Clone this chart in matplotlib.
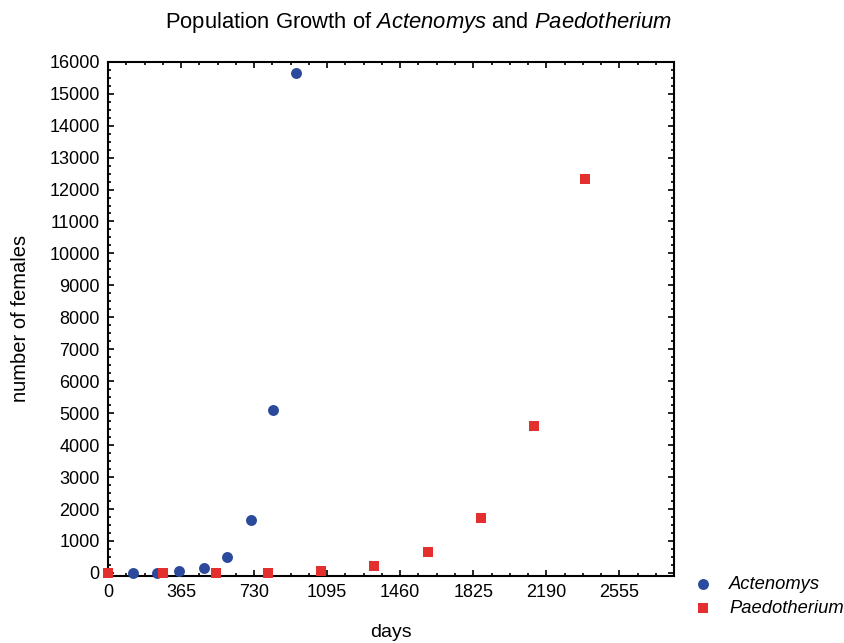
import matplotlib.pyplot as plt
from matplotlib.ticker import MultipleLocator

plt.rcParams["font.family"] = ["Liberation Sans", "DejaVu Sans"]
plt.rcParams["mathtext.fontset"] = "custom"
plt.rcParams["mathtext.rm"] = "Liberation Sans"
plt.rcParams["mathtext.it"] = "Liberation Sans:italic"

# Actenomys (blue circles)
act_days = [123, 243, 355, 477, 593, 715, 825, 940]
act_females = [0, 5, 60, 170, 510, 1660, 5100, 15660]

# Paedotherium (red squares)
pae_days = [0, 276, 538, 798, 1063, 1327, 1597, 1863, 2130, 2385]
pae_females = [0, 0, 0, 5, 70, 230, 640, 1720, 4600, 12330]

x_ticks = [0, 365, 730, 1095, 1460, 1825, 2190, 2555]

fig = plt.figure(figsize=(8.45, 6.43), dpi=100)
ax = fig.add_axes([0.128, 0.104, 0.67, 0.80])

ax.scatter(act_days, act_females, marker="o", s=62, color="#2c4a9b",
           label="Actenomys", zorder=3, clip_on=False, linewidths=0)
ax.scatter(pae_days, pae_females, marker="s", s=58, color="#e3302f",
           label="Paedotherium", zorder=3, clip_on=False, linewidths=0)

ax.set_xlim(0, 2830)
ax.set_ylim(-100, 16000)
ax.set_xticks(x_ticks)
ax.xaxis.set_minor_locator(MultipleLocator(91.25))
ax.yaxis.set_major_locator(MultipleLocator(1000))
ax.yaxis.set_minor_locator(MultipleLocator(250))

ax.tick_params(which="both", direction="in", top=True, right=True,
               labelsize=13, width=1.2)
ax.tick_params(which="major", length=4, pad=6)
ax.tick_params(which="minor", length=2.5)
for sp in ax.spines.values():
    sp.set_linewidth(1.5)

ax.set_xlabel("days", fontsize=14, labelpad=16)
ax.set_ylabel("number of females", fontsize=14.5, labelpad=14)
fig.suptitle("Population Growth of $\\mathit{Actenomys}$ and $\\mathit{Paedotherium}$",
             x=0.495, y=0.985, fontsize=15.8)

leg = ax.legend(loc="lower left", bbox_to_anchor=(1.005, -0.093), frameon=False,
                handletextpad=0.45, borderaxespad=0, labelspacing=0.35,
                prop={"style": "italic", "size": 13.2})

fig.savefig("out.png", dpi=100)
